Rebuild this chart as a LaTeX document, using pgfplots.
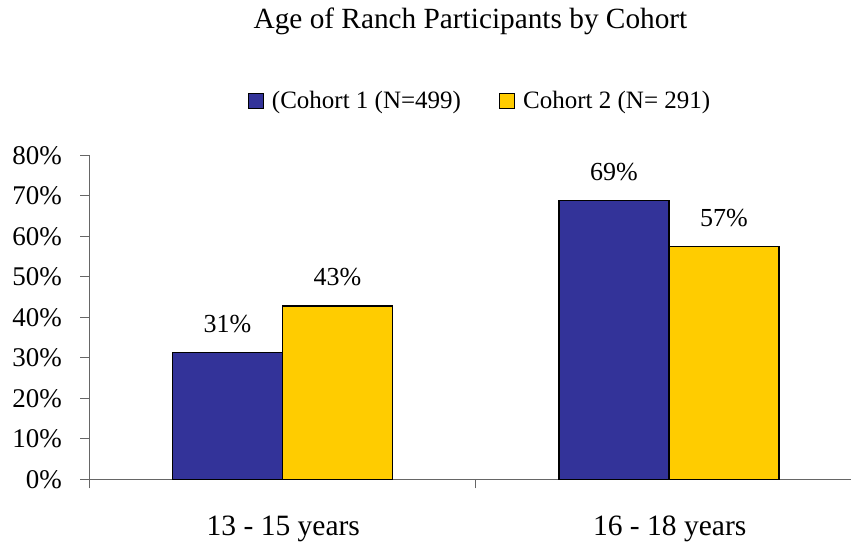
\documentclass[border=0pt]{standalone}
\usepackage{fontspec}
\setmainfont{Liberation Serif}
\usepackage{pgfplots}
\pgfplotsset{compat=1.18}
\definecolor{cblue}{HTML}{333399}
\definecolor{cgold}{HTML}{FFCC00}
\begin{document}
\begin{tikzpicture}
\useasboundingbox (-89.3bp,-62.7bp) rectangle (762.7bp,479.3bp);
\begin{axis}[
  scale only axis, width=761.6bp, height=324bp,
  xmin=0, xmax=1.971, ymin=0, ymax=80,
  axis x line=bottom, axis y line=left,
  axis line style={-, black!60, line width=1bp},
  xtick={0,1,2}, xticklabels={13 - 15 years,16 - 18 years,},
  xticklabel style={anchor=base, xshift=194bp, yshift=-47bp, font=\fontsize{29.5bp}{34bp}\selectfont},
  ytick={0,10,...,80},
  yticklabel={\pgfmathprintnumber{\tick}\%},
  /pgf/number format/assume math mode=true,
  yticklabel style={xshift=-15bp, font=\fontsize{27bp}{32bp}\selectfont},
  tick align=outside, major tick length=9bp,
  tick style={black!60, line width=1bp},
  ybar, bar width=110bp,
  nodes near coords={\pgfplotspointmeta\%}, point meta=explicit symbolic,
  every node near coord/.append style={anchor=base, yshift=20bp, font=\fontsize{26bp}{31bp}\selectfont, black},
  legend style={at={(0.513,1.1676)}, anchor=center, draw=none, legend columns=2,
    font=\fontsize{25bp}{30bp}\selectfont,
    /tikz/every even column/.append style={column sep=36bp}},
  legend image code/.code={\draw[#1, line width=1bp] (0bp,-7.5bp) rectangle (15bp,7.5bp); \path (21bp,0bp);},
  title={Age of Ranch Participants by Cohort},
  title style={at={(0.5005,1.3744)}, anchor=base, font=\fontsize{29.3bp}{34bp}\selectfont},
]
\addplot[fill=cblue, draw=black, line width=1.3bp, bar shift=-55bp] coordinates {(0.5,31.3) [31] (1.5,68.9) [69]};
\addplot[fill=cgold, draw=black, line width=1.3bp, bar shift=55bp] coordinates {(0.5,42.8) [43] (1.5,57.4) [57]};
\legend{(Cohort 1 (N=499), Cohort 2 (N= 291)}
\end{axis}
\end{tikzpicture}
\end{document}
